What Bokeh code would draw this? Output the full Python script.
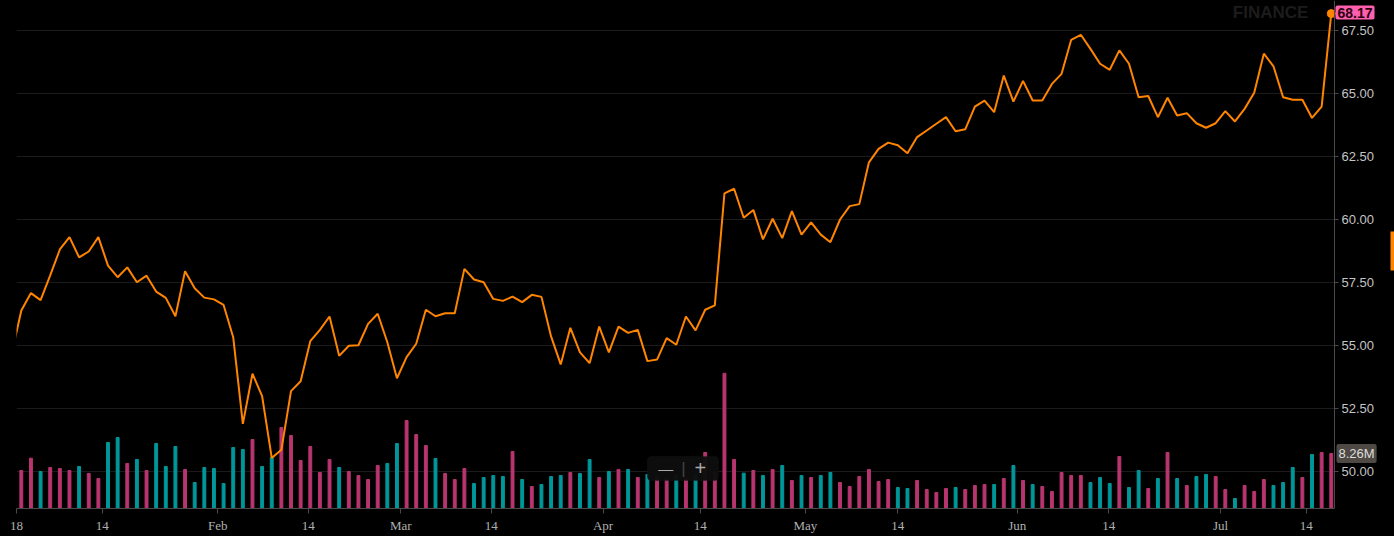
from bokeh.plotting import figure
from bokeh.models import (Range1d, FixedTicker, NumeralTickFormatter, Label,
                          ColumnDataSource, BoxAnnotation, Span)
from bokeh.embed import file_html
from bokeh.resources import INLINE

# ---------------- data (trading-day index 0 = 2 Jan 2018 ... 136 = 18 Jul 2018)
prev_close = 54.67  # close of the last session of 2017 (off the left edge)

close = [
    56.39, 57.08, 56.80, 57.78, 58.81, 59.30, 58.50, 58.73, 59.30, 58.17,
    57.71, 58.10, 57.51, 57.77, 57.14, 56.89, 56.16, 57.95, 57.27, 56.90,
    56.83, 56.61, 55.33, 51.89, 53.88, 52.99, 50.54, 50.86, 53.19, 53.58,
    55.17, 55.62, 56.15, 54.59, 54.99, 55.01, 55.86, 56.26, 55.13, 53.70,
    54.54, 55.07, 56.42, 56.16, 56.28, 56.28, 58.04, 57.62, 57.51, 56.85,
    56.77, 56.94, 56.72, 57.01, 56.93, 55.36, 54.25, 55.70, 54.73, 54.30,
    55.75, 54.73, 55.75, 55.50, 55.62, 54.38, 54.44, 55.29, 55.03, 56.15,
    55.60, 56.42, 56.59, 61.04, 61.22, 60.07, 60.38, 59.21, 60.03, 59.26,
    60.33, 59.40, 59.89, 59.40, 59.10, 60.00, 60.53, 60.61, 62.27, 62.80,
    63.05, 62.95, 62.63, 63.27, 63.53, 63.80, 64.06, 63.50, 63.58, 64.48,
    64.72, 64.26, 65.71, 64.68, 65.50, 64.72, 64.72, 65.38, 65.78, 67.13,
    67.33, 66.77, 66.18, 65.94, 66.71, 66.18, 64.85, 64.90, 64.06, 64.83,
    64.13, 64.22, 63.82, 63.64, 63.82, 64.30, 63.89, 64.39, 65.03, 66.58,
    66.08, 64.85, 64.75, 64.75, 64.03, 64.48, 68.17,
]

volume_m = [
    5.71, 7.56, 5.56, 6.16, 6.01, 5.71, 6.31, 5.26, 4.50, 9.91,
    10.66, 6.76, 7.36, 5.71, 9.76, 6.31, 9.31, 5.86, 3.90, 6.16,
    6.01, 3.75, 9.16, 8.86, 10.36, 6.31, 7.66, 12.16, 10.96, 7.21,
    9.31, 5.41, 7.36, 6.16, 5.56, 4.95, 4.35, 6.46, 6.76, 9.76,
    13.21, 11.11, 9.46, 7.51, 5.26, 4.35, 6.01, 3.75, 4.65, 4.95,
    4.80, 8.56, 4.35, 3.30, 3.60, 4.80, 4.95, 5.41, 5.26, 7.36,
    4.65, 5.56, 5.86, 5.86, 4.65, 5.11, 4.80, 4.50, 5.00, 4.60,
    5.20, 8.41, 5.50, 20.30, 7.36, 5.31, 5.71, 4.95, 5.86, 6.46,
    4.20, 4.95, 4.65, 4.95, 5.41, 3.90, 3.30, 4.80, 5.86, 4.05,
    4.35, 3.15, 3.00, 4.20, 2.85, 2.40, 3.00, 3.15, 2.85, 3.45,
    3.60, 3.60, 4.50, 6.46, 4.20, 3.60, 3.30, 2.55, 5.41, 4.95,
    4.95, 3.90, 4.65, 3.75, 7.81, 3.15, 5.71, 3.00, 4.50, 8.41,
    4.50, 3.45, 4.80, 5.11, 4.80, 2.85, 1.50, 3.45, 2.55, 4.35,
    3.45, 3.90, 6.16, 4.65, 8.11, 8.41, 8.26,
]

# U = up-volume bar, D = down-volume bar
vol_dir = list(
    "DDUDDDUDDU" "UDUDUUUDUU" "UUUUDUUDDD" "DDDUDDDDUU" "DDDUDDDUUU"
    "UDUDUUUDUU" "DUDUDUDDUD" "UDDDDUDUDU" "DUDUUDDDDD" "DUUDDDDUDD"
    "DUDUDUDDDD" "DUUUDUUDUD" "UDUUDDUDDD" "UUUDUDD"
)

x_tick_pos = [-0.5, 8.4, 20.4, 29.8, 39.4, 48.8, 60.4, 70.5, 81.4, 91.0,
              103.4, 112.9, 124.5, 133.4]
x_tick_labels = ["18", "14", "Feb", "14", "Mar", "14", "Apr", "14", "May", "14",
                 "Jun", "14", "Jul", "14"]
y_ticks = [50.0, 52.5, 55.0, 57.5, 60.0, 62.5, 65.0, 67.5]

# ---------------- layout / styling
BG = "#000000"
ORANGE = "#ff8400"
UP = "#00979a"
DOWN = "#b8356f"
AXIS = "#4a4a4a"
GRID = "#1b1b1b"

W, H = 1394, 536
LEFT, BOTTOM = 16, 28
PLOT_W = 1318                  # width of the price area (up to the price scale)
FRAME_W, FRAME_H = W - LEFT, H - BOTTOM
PX_PER_DAY = 9.632
PX_PER_USD = 25.2
PX_PER_MVOL = 6.66

x0 = -0.5
x1 = x0 + FRAME_W / PX_PER_DAY
axis_x = x0 + PLOT_W / PX_PER_DAY          # where the price scale sits
y0 = 50.0 - 37 / PX_PER_USD
y1 = y0 + FRAME_H / PX_PER_USD

p = figure(width=W, height=H, output_backend="svg", toolbar_location=None,
           x_range=Range1d(x0, x1), y_range=Range1d(y0, y1),
           y_axis_location="right",
           min_border_left=LEFT, min_border_right=0, min_border_top=0,
           min_border_bottom=BOTTOM,
           background_fill_color=BG, border_fill_color=BG,
           outline_line_color=None)
p.extra_y_ranges = {"vol": Range1d(0, FRAME_H / PX_PER_MVOL)}

# horizontal grid, stopping at the price scale
p.segment(x0=[x0] * len(y_ticks), x1=[axis_x] * len(y_ticks),
          y0=y_ticks, y1=y_ticks, line_color=GRID, line_width=1, level="underlay")
# price-scale tick marks
p.segment(x0=[axis_x] * len(y_ticks), x1=[axis_x + 4 / PX_PER_DAY] * len(y_ticks),
          y0=y_ticks, y1=y_ticks, line_color=AXIS, line_width=1)
p.add_layout(Span(location=axis_x, dimension="height", line_color=AXIS,
                  line_width=1))

idx = list(range(len(close)))
vsrc = ColumnDataSource(dict(
    x=idx, top=volume_m,
    color=[UP if d == "U" else DOWN for d in vol_dir],
))
p.vbar(x="x", top="top", bottom=0, width=0.3, color="color",
       source=vsrc, y_range_name="vol")

p.line([-1] + idx, [prev_close] + close, line_color=ORANGE, line_width=2)
p.scatter([idx[-1]], [close[-1]], size=8, color=ORANGE)

# x axis (line limited to the price area)
xa = p.xaxis[0]
xa.bounds = (x0, axis_x)
xa.ticker = FixedTicker(ticks=x_tick_pos, minor_ticks=[])
xa.major_label_overrides = {t: l for t, l in zip(x_tick_pos, x_tick_labels)}
xa.axis_line_color = AXIS
xa.major_tick_line_color = AXIS
xa.major_tick_out = 5
xa.major_tick_in = 0
xa.minor_tick_line_color = None
xa.major_label_text_font = "Liberation Serif"
xa.major_label_text_font_size = "13px"
xa.major_label_text_color = "#b0b0b0"
xa.major_label_standoff = 4

# price scale labels: the right axis sits at the frame edge, its labels are
# pulled back next to the price-scale line
ya = p.yaxis[0]
ya.ticker = FixedTicker(ticks=y_ticks, minor_ticks=[])
ya.formatter = NumeralTickFormatter(format="0.00")
ya.axis_line_color = None
ya.major_tick_line_color = None
ya.major_tick_out = 0
ya.major_tick_in = 0
ya.minor_tick_line_color = None
ya.major_label_text_font = "Liberation Sans"
ya.major_label_text_font_size = "13px"
ya.major_label_text_color = "#c4c4c4"
ya.major_label_standoff = -(FRAME_W - PLOT_W - 7)

p.ygrid.visible = False
p.xgrid.visible = False

# last-value tags
p.add_layout(Label(x=axis_x, y=close[-1], x_offset=1, y_offset=1,
                   text=f"{close[-1]:.2f}",
                   text_baseline="middle", text_align="left",
                   text_font="Liberation Sans", text_font_size="14px",
                   text_font_style="bold", text_color="#2a0010",
                   background_fill_color="#ff5fac", padding=2, border_radius=2))
p.add_layout(Label(x=axis_x, y=volume_m[-1], y_range_name="vol", x_offset=2,
                   text=f"{volume_m[-1]:.2f}M",
                   text_baseline="middle", text_align="left",
                   text_font="Liberation Sans", text_font_size="13px",
                   text_color="#dddddd",
                   background_fill_color="#4e4944", padding=2, border_radius=2))

# watermark
p.add_layout(Label(x=129.7, y=y1 - 12 / PX_PER_USD, text="FINANCE",
                   text_align="center", text_baseline="alphabetic",
                   text_font="Liberation Sans", text_font_size="17px",
                   text_font_style="bold", text_color="#1c1c1c"))

# zoom control overlay
p.add_layout(BoxAnnotation(left=65.0, right=72.4, bottom=49.64, top=50.60,
                           fill_color="#0e0e0e", fill_alpha=0.96,
                           line_color="#1a1a1a", border_radius=4))
p.add_layout(Label(x=66.9, y=50.12, text="—", text_align="center",
                   text_baseline="middle", text_font_size="15px",
                   text_color="#aaaaaa"))
p.add_layout(Label(x=68.75, y=50.12, text="|", text_align="center",
                   text_baseline="middle", text_font_size="17px",
                   text_color="#444444"))
p.add_layout(Label(x=70.5, y=50.12, text="+", text_align="center",
                   text_baseline="middle", text_font_size="20px",
                   text_color="#aaaaaa"))

# scrollbar tab at the right edge
p.add_layout(BoxAnnotation(left=x1 - 4 / PX_PER_DAY, right=x1,
                           bottom=57.98, top=59.52,
                           fill_color=ORANGE, fill_alpha=1.0, line_color=None))

template = """{% block preamble %}<style>html, body { background-color: #000000; }</style>{% endblock %}"""
open("out.html", "w").write(file_html(p, INLINE, template=template))
